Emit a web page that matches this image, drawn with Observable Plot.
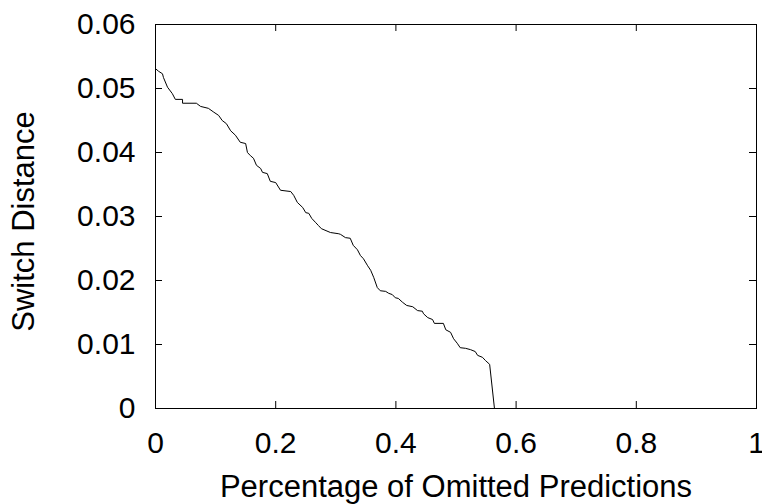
<!DOCTYPE html>
<html>
<head>
<meta charset="utf-8">
<script src="https://cdn.jsdelivr.net/npm/d3@7"></script>
<script src="https://cdn.jsdelivr.net/npm/@observablehq/plot@0.6"></script>
<style>
  html, body { margin: 0; padding: 0; background: #fff; }
  #chart svg { font-family: "Liberation Sans", Arial, sans-serif; }
</style>
</head>
<body>
<div id="chart"></div>
<script>
// Fraction of predictions omitted (x) and resulting switch distance (y)
const omitted = [0, 0.005, 0.0116, 0.0133, 0.020, 0.028, 0.033, 0.045, 0.045, 0.068, 0.075, 0.088, 0.097, 0.105, 0.111, 0.118, 0.125, 0.133, 0.141, 0.150, 0.153, 0.158, 0.163, 0.168, 0.175, 0.178, 0.186, 0.191, 0.200, 0.208, 0.225, 0.230, 0.236, 0.245, 0.250, 0.255, 0.260, 0.266, 0.271, 0.276, 0.291, 0.305, 0.308, 0.316, 0.324, 0.329, 0.336, 0.341, 0.346, 0.353, 0.358, 0.363, 0.369, 0.374, 0.383, 0.388, 0.394, 0.399, 0.404, 0.411, 0.418, 0.428, 0.436, 0.444, 0.446, 0.453, 0.461, 0.464, 0.479, 0.483, 0.491, 0.496, 0.502, 0.507, 0.516, 0.524, 0.532, 0.536, 0.544, 0.549, 0.556, 0.564];
const switchDistance = [0.0531, 0.0527, 0.0523, 0.0517, 0.0502, 0.0492, 0.0483, 0.0483, 0.0477, 0.0477, 0.0472, 0.0469, 0.0463, 0.0458, 0.0450, 0.0445, 0.0434, 0.0427, 0.0416, 0.0414, 0.0400, 0.0395, 0.0391, 0.0380, 0.0375, 0.0369, 0.0367, 0.0355, 0.0353, 0.0341, 0.0339, 0.0333, 0.0322, 0.0314, 0.0306, 0.0305, 0.0297, 0.0291, 0.0286, 0.0281, 0.0275, 0.0273, 0.0272, 0.0267, 0.0266, 0.0255, 0.0248, 0.0239, 0.0234, 0.0223, 0.0216, 0.0205, 0.0189, 0.0184, 0.0183, 0.0180, 0.0178, 0.0173, 0.0172, 0.0166, 0.0161, 0.0159, 0.0153, 0.0152, 0.0148, 0.0142, 0.0139, 0.0133, 0.0133, 0.0123, 0.0119, 0.0109, 0.0102, 0.0095, 0.0094, 0.0092, 0.0089, 0.0083, 0.0080, 0.0075, 0.0069, 0];

const xTicks = [0, 0.2, 0.4, 0.6, 0.8, 1];
const yTicks = [0, 0.01, 0.02, 0.03, 0.04, 0.05, 0.06];
const xTitle = "Percentage of Omitted Predictions";
const yTitle = "Switch Distance";

const data = omitted.map((x, i) => ({x, y: switchDistance[i]}));

const W = 762, H = 504;
const mL = 155, mR = 6, mT = 24, mB = 96;
const innerW = W - mL - mR, innerH = H - mT - mB;
const tickLen = 7;
const fs = 30;

const chart = Plot.plot({
  width: W,
  height: H,
  marginLeft: mL,
  marginRight: mR,
  marginTop: mT,
  marginBottom: mB,
  style: {fontFamily: '"Liberation Sans", Arial, sans-serif', background: "#fff", color: "#000"},
  x: {domain: [0, 1]},
  y: {domain: [0, 0.06]},
  marks: [
    Plot.frame({stroke: "#000", strokeWidth: 1}),
    // inward ticks on all four sides
    Plot.tickX(xTicks, {x: d => d, insetTop: innerH - tickLen, stroke: "#000"}),
    Plot.tickX(xTicks, {x: d => d, insetBottom: innerH - tickLen, stroke: "#000"}),
    Plot.tickY(yTicks, {y: d => d, insetRight: innerW - tickLen, stroke: "#000"}),
    Plot.tickY(yTicks, {y: d => d, insetLeft: innerW - tickLen, stroke: "#000"}),
    Plot.axisX({ticks: xTicks, tickFormat: d => String(d), tickSize: 0, tickPadding: 23, fontSize: fs, label: null}),
    Plot.axisY({ticks: yTicks, tickFormat: d => String(d), tickSize: 0, tickPadding: 20, fontSize: fs, label: null}),
    Plot.line(data, {x: "x", y: "y", stroke: "#000", strokeWidth: 1}),
    Plot.text([xTitle], {text: d => d, frameAnchor: "bottom", textAnchor: "middle", lineAnchor: "middle", dy: 79, fontSize: 31, fill: "#000"}),
    Plot.text([yTitle], {text: d => d, frameAnchor: "left", textAnchor: "middle", lineAnchor: "middle", rotate: -90, dx: -131, dy: 5, fontSize: 31, fill: "#000"})
  ]
});
document.getElementById("chart").appendChild(chart);
</script>
</body>
</html>
